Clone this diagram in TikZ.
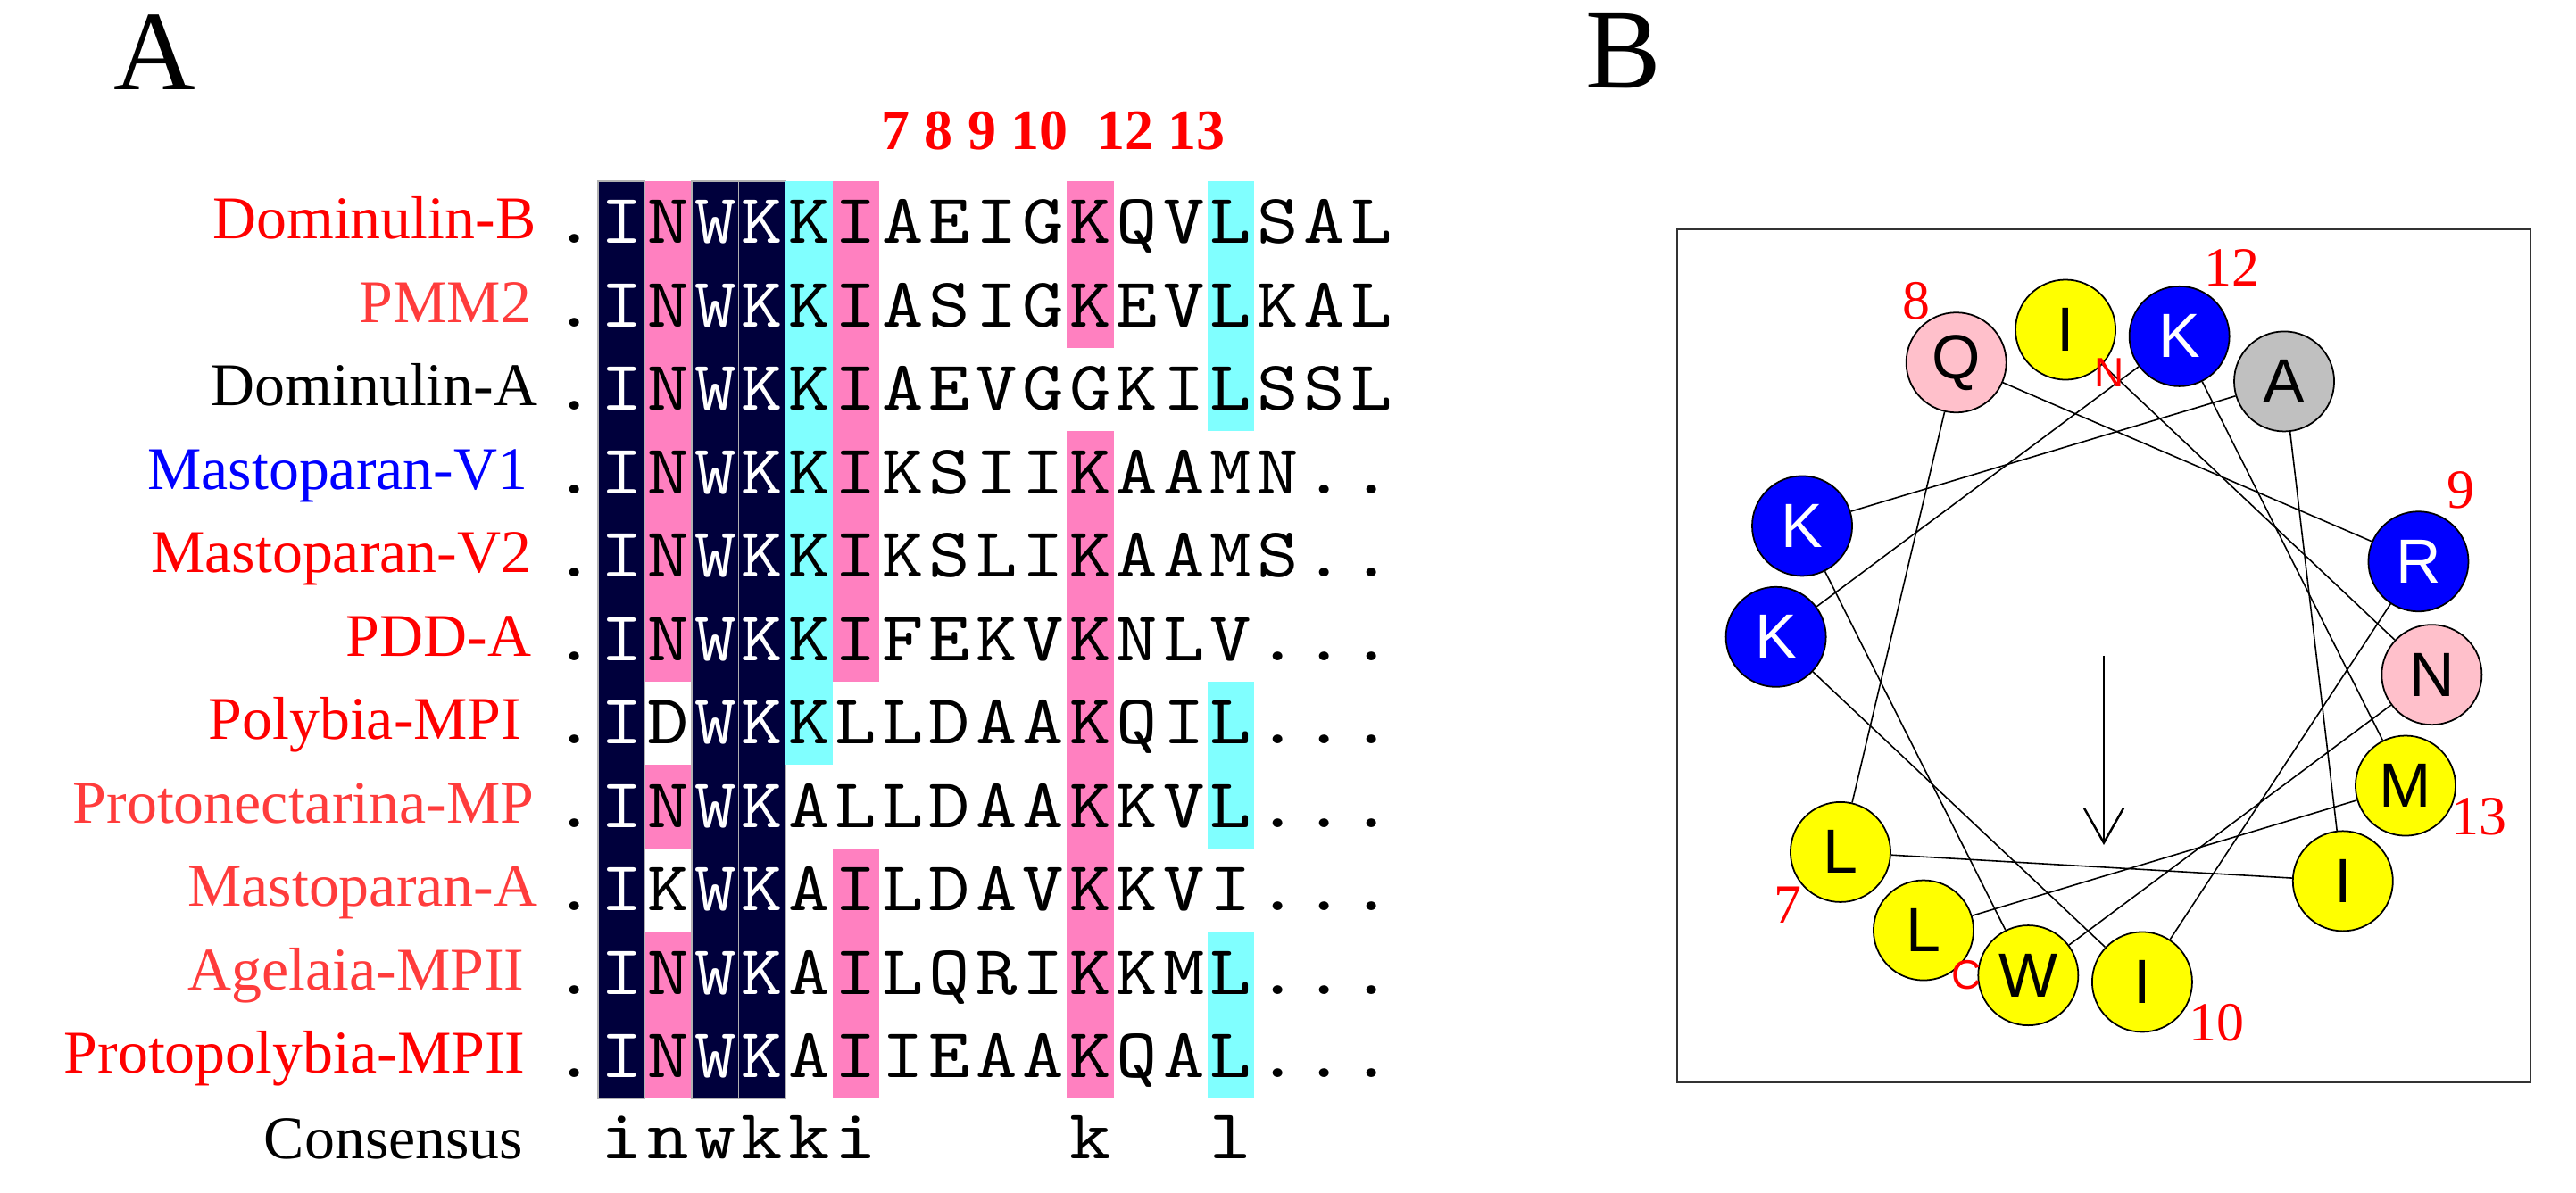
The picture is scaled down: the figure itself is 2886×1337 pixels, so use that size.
\documentclass[tikz,border=0pt]{standalone}
\usepackage{fontspec}
\setmainfont{Liberation Serif}
\newfontfamily\wheelfont{Liberation Sans}
\newfontfamily\seqface{lmmono10-regular.otf}[FakeStretch=1.12]
\usetikzlibrary{arrows.meta}

\definecolor{alnnavy}{HTML}{00003C}
\definecolor{alnpink}{HTML}{FF80C0}
\definecolor{alncyan}{HTML}{80FFFF}
\definecolor{labred}{HTML}{FF0000}
\definecolor{lablight}{HTML}{FF3C3C}
\definecolor{labblue}{HTML}{0000FF}
\definecolor{respink}{HTML}{FFC0CB}
\definecolor{resgray}{HTML}{C0C0C0}
\definecolor{resblue}{HTML}{0000FF}
\definecolor{resyellow}{HTML}{FFFF00}

% one aligned sequence, one letter per column (column 0 is the leading dot)
\newcommand\seqrow[2]{\def\seqr{#1}\def\seqc{0}\seqloop#2\relax}
\def\seqloop#1{\ifx#1\relax\else
  \node[seqch] (s\seqr-\seqc) at ({643.75+52.5*\seqc},{273+93.5*(\seqr-1)}) {\seqtint{\seqc}#1};%
  \pgfmathtruncatemacro\seqc{\seqc+1}%
  \expandafter\seqloop\fi}
% white letters on the dark columns
\newcommand\seqtint[1]{\ifcase#1\or\color{white}\or\or\color{white}\or\color{white}\fi}
% shaded run of cells: column, first row, last row, style
\newcommand\alnbox[4]{\path[#4] ({670+52.5*(#1-1)},{203+93.5*(#2-1)}) rectangle ({670+52.5*#1},{203+93.5*#3});}

\begin{document}
\begin{tikzpicture}[x=0.01cm,y=-0.01cm,
    panel/.style={inner sep=0pt,font=\fontsize{36.1}{38}\selectfont},
    seqlab/.style={anchor=base east,inner sep=0pt,font=\fontsize{19.3}{21}\selectfont},
    seqch/.style={anchor=base,inner sep=0pt,font=\seqface\fontsize{22.4}{24}\selectfont},
    topnum/.style={anchor=base,inner sep=0pt,text=labred,font=\bfseries\fontsize{18.2}{20}\selectfont},
    navyc/.style={fill=alnnavy,draw=white!70!black,line width=0.3pt},
    pinkc/.style={fill=alnpink},
    cyanc/.style={fill=alncyan},
    res/.style={circle,draw=black,line width=0.5pt,minimum size=1.12cm,inner sep=0pt,font=\wheelfont\fontsize{19.9}{21}\selectfont},
    hyd/.style={fill=resyellow},
    pol/.style={fill=respink},
    bas/.style={fill=resblue,text=white},
    ala/.style={fill=resgray},
    helix/.style={line width=0.45pt},
    wnum/.style={inner sep=0pt,text=labred,font=\fontsize{17.6}{19}\selectfont},
    term/.style={inner sep=0pt,text=labred,font=\wheelfont\fontsize{13.1}{14}\selectfont},
    wheelbox/.style={draw=black!80,line width=0.6pt},
    moment/.style={line width=0.7pt,-{Straight Barb[length=11pt,width=12.5pt]}}]
  \useasboundingbox (0,0) rectangle (2886,1337);

  \node[panel,anchor=base] (pa) at (173,101) {A};
  \node[panel,anchor=base west] (pb) at (1776,99) {B};

  % alignment shading
  \alnbox{1}{1}{11}{navyc}
  \alnbox{2}{1}{6}{pinkc}
  \alnbox{2}{8}{8}{pinkc}
  \alnbox{2}{10}{11}{pinkc}
  \alnbox{3}{1}{11}{navyc}
  \alnbox{4}{1}{11}{navyc}
  \alnbox{5}{1}{7}{cyanc}
  \alnbox{6}{1}{6}{pinkc}
  \alnbox{6}{9}{11}{pinkc}
  \alnbox{11}{1}{2}{pinkc}
  \alnbox{11}{4}{11}{pinkc}
  \alnbox{14}{1}{3}{cyanc}
  \alnbox{14}{7}{8}{cyanc}
  \alnbox{14}{10}{11}{cyanc}

  \node[topnum] (nums) at (1180,168) {7 8 9 10~~12 13};

  % peptide names
  \node[seqlab,text=labred] (lab1) at (601,268) {Dominulin-B};
  \node[seqlab,text=lablight] (lab2) at (596,361.5) {PMM2};
  \node[seqlab] (lab3) at (603,455) {Dominulin-A};
  \node[seqlab,text=labblue] (lab4) at (592,548.5) {Mastoparan-V1};
  \node[seqlab,text=labred] (lab5) at (596,642) {Mastoparan-V2};
  \node[seqlab,text=labred] (lab6) at (596,735.5) {PDD-A};
  \node[seqlab,text=labred] (lab7) at (585,829) {Polybia-MPI};
  \node[seqlab,text=lablight] (lab8) at (599,922.5) {Protonectarina-MP};
  \node[seqlab,text=lablight] (lab9) at (603,1016) {Mastoparan-A};
  \node[seqlab,text=lablight] (lab10) at (588,1109.5) {Agelaia-MPII};
  \node[seqlab,text=labred] (lab11) at (589,1203) {Protopolybia-MPII};
  \node[seqlab] (lab12) at (587,1299) {Consensus};

  % sequences
  \seqrow{1}{.INWKKIAEIGKQVLSAL}
  \seqrow{2}{.INWKKIASIGKEVLKAL}
  \seqrow{3}{.INWKKIAEVGGKILSSL}
  \seqrow{4}{.INWKKIKSIIKAAMN..}
  \seqrow{5}{.INWKKIKSLIKAAMS..}
  \seqrow{6}{.INWKKIFEKVKNLV...}
  \seqrow{7}{.IDWKKLLDAAKQIL...}
  \seqrow{8}{.INWKALLDAAKKVL...}
  \seqrow{9}{.IKWKAILDAVKKVI...}
  \seqrow{10}{.INWKAILQRIKKML...}
  \seqrow{11}{.INWKAIIEAAKQAL...}
  \foreach \c/\ch in {1/i,2/n,3/w,4/k,5/k,6/i,11/k,14/l}
    \node[seqch] (cons\c) at ({643.75+52.5*\c},1299) {\ch};

  % helical wheel
  \draw[wheelbox] (1879,257) rectangle (2835,1213);
  \begin{scope}[shift={(2357,735)}]
    \foreach \aa/\kind [count=\k] in {I/hyd,N/pol,W/hyd,K/bas,A/ala,I/hyd,L/hyd,Q/pol,R/bas,I/hyd,K/bas,K/bas,M/hyd,L/hyd}
      \node[res,\kind] (r\k) at ({100*(\k-1)-96.7}:368) {\aa};
  \end{scope}
  \foreach \k [evaluate=\k as \nx using int(\k+1)] in {1,...,13}
    \draw[helix] (r\k) -- (r\nx);

  \node[wnum] (w7) at (2003,1014) {7};
  \node[wnum] (w8) at (2147,337) {8};
  \node[wnum] (w9) at (2757,549) {9};
  \node[wnum] (w10) at (2483,1146) {10};
  \node[wnum] (w12) at (2500,300) {12};
  \node[wnum] (w13) at (2777,915) {13};
  \node[term] (nterm) at (2363,418) {N};
  \node[term] (cterm) at (2203,1093) {C};

  \coordinate (wc) at (2357,735);
  \coordinate (wtip) at (2357,947);
  \draw[moment] (wc) -- (wtip);
\end{tikzpicture}
\end{document}
